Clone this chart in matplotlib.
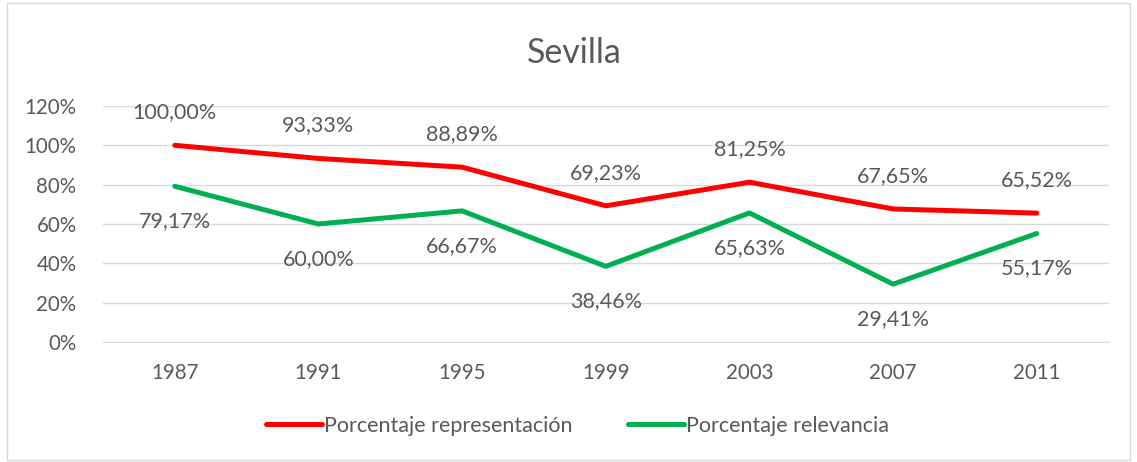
import matplotlib.pyplot as plt
from matplotlib.patches import Rectangle
from matplotlib.ticker import FuncFormatter

plt.rcParams['font.family'] = ['Lato', 'DejaVu Sans']

# data
years = ['1987', '1991', '1995', '1999', '2003', '2007', '2011']
representacion = [100.00, 93.33, 88.89, 69.23, 81.25, 67.65, 65.52]
relevancia = [79.17, 60.00, 66.67, 38.46, 65.63, 29.41, 55.17]

txt = '#595959'
red = '#ff0000'
green = '#00b050'

fig = plt.figure(figsize=(11.37, 4.62), dpi=100)
ax = fig.add_axes([0.0906, 0.2597, 0.8844, 0.5109])

x = range(len(years))
rep = [v / 100 for v in representacion]
rel = [v / 100 for v in relevancia]
ax.plot(x, rep, color=red, lw=3.6, solid_capstyle='round', label='Porcentaje representación')
ax.plot(x, rel, color=green, lw=3.6, solid_capstyle='round', label='Porcentaje relevancia')

def fmt(v):
    return f'{v:.2f}'.replace('.', ',') + '%'

for i in x:
    ax.annotate(fmt(representacion[i]), (i, rep[i]), xytext=(0, 33), textcoords='offset pixels',
                ha='center', va='center', fontsize=15.5, color=txt)
    ax.annotate(fmt(relevancia[i]), (i, rel[i]), xytext=(0, -35), textcoords='offset pixels',
                ha='center', va='center', fontsize=15.5, color=txt)

ax.set_xlim(-0.5, len(years) - 0.5)
ax.set_ylim(0, 1.2)
ax.set_yticks([0, 0.2, 0.4, 0.6, 0.8, 1.0, 1.2])
ax.yaxis.set_major_formatter(FuncFormatter(lambda v, p: f'{v * 100:.0f}%'))
ax.set_xticks(list(x))
ax.set_xticklabels(years)
ax.tick_params(length=0, labelsize=14.8, colors=txt, pad=15)
ax.tick_params(axis='y', pad=19)
ax.grid(axis='y', color='#d9d9d9', lw=1)
ax.set_axisbelow(True)
for s in ['top', 'right', 'left']:
    ax.spines[s].set_visible(False)
ax.spines['bottom'].set_color('#d9d9d9')

fig.text(0.505, 0.885, 'Sevilla', ha='center', va='center', fontsize=24.5, color=txt)

fig.legend(loc='center', bbox_to_anchor=(0.508, 0.078), ncol=2, frameon=False,
           fontsize=15.5, labelcolor=txt, handlelength=2.6, handletextpad=0.1,
           columnspacing=2.6)

fig.add_artist(Rectangle((0.006, 0.004), 0.988, 0.99, transform=fig.transFigure,
                         fill=False, edgecolor='#d9d9d9', lw=1))

fig.savefig('out.png', dpi=100)
